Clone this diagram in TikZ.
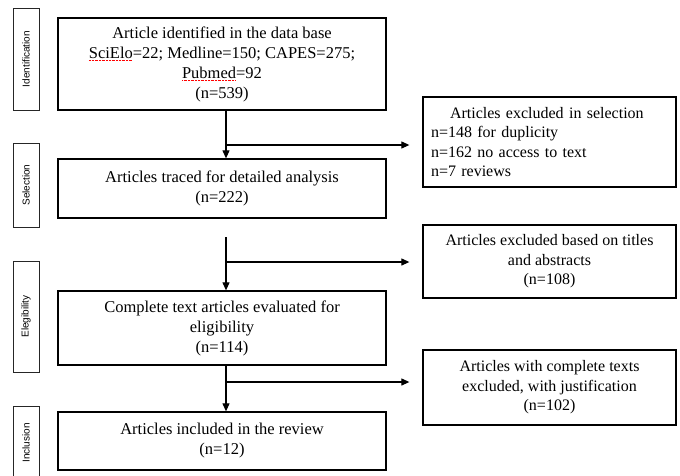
\documentclass[tikz,border=0pt]{standalone}
\usepackage{fontspec}
\setmainfont{Liberation Serif}
\setsansfont{Liberation Sans}
\usetikzlibrary{arrows.meta}
\newsavebox\spellbox
\newcommand\spellerr[1]{\sbox\spellbox{#1}\rlap{\raisebox{-2.8pt}{\textcolor{red}{\hbox to \wd\spellbox{\xleaders\hbox{\rule{0.9pt}{0.6pt}\hskip0.5pt}\hfill}}}}\usebox\spellbox}
\begin{document}
\begin{tikzpicture}[x=1pt,y=-1pt,
  mainbox/.style={draw=black,line width=1.3pt,minimum width=328pt,align=center,inner sep=0pt,
    font=\fontsize{16.5}{20}\selectfont},
  sidebox/.style={draw=black!85,line width=0.9pt,minimum width=26pt,inner sep=0pt},
  sidelabel/.style={rotate=90,font=\sffamily\fontsize{10}{11}\selectfont},
  exbox/.style={draw=black,line width=1.3pt,minimum width=253pt,inner sep=0pt,
    font=\fontsize{16}{19.5}\selectfont},
  flow/.style={line width=1.1pt,-{Triangle[length=8pt,width=7pt]}},
  side/.style={flow,shorten >=13pt}]
\useasboundingbox (0,0) rectangle (680,475);
\begin{scope}
\clip (0,0) rectangle (680,475);
% side phase boxes
\node[sidebox,minimum height=102pt] (s1) at (26,59) {};
\node[sidelabel] at (s1) {Identification};
\node[sidebox,minimum height=84pt] (s2) at (26,185) {};
\node[sidelabel] at (s2) {Selection};
\node[sidebox,minimum height=111pt] (s3) at (26,316.5) {};
\node[sidelabel] at (s3) {Elegibility};
\node[sidebox,minimum height=80pt] (s4) at (26,446) {};
\node[sidelabel] at (26,443) {Inclusion};
\end{scope}
% main boxes
\node[mainbox,minimum height=92pt] (b1) at (222,64)
  {Article identified in the data base\\ \spellerr{SciElo}=22; Medline=150; CAPES=275;\\ \spellerr{Pubmed}=92\\ (n=539)};
\node[mainbox,minimum height=59pt] (b2) at (222,188.5)
  {Articles traced for detailed analysis\\ (n=222)};
\node[mainbox,minimum height=74pt] (b3) at (222,328)
  {Complete text articles evaluated for\\ eligibility\\ (n=114)};
\node[mainbox,minimum height=58pt] (b4) at (222,441)
  {Articles included in the review\\ (n=12)};
% exclusion boxes
\node[exbox,minimum height=90pt,align=left,text width=237pt] (r1) at (549.5,142)
  {\hspace*{19pt}Articles excluded in selection\\ n=148 for duplicity\\ n=162 no access to text\\ n=7 reviews};
\node[exbox,minimum height=73pt,align=center] (r2) at (549.5,261.5)
  {Articles excluded based on titles\\ and abstracts\\ (n=108)};
\node[exbox,minimum height=75pt,align=center] (r3) at (549.5,387.5)
  {Articles with complete texts\\ excluded, with justification\\ (n=102)};
% connectors
\coordinate (cx) at (226,0);
\coordinate (j1) at (226,145);
\coordinate (c2) at (226,237);
\coordinate (j2) at (226,262);
\coordinate (j3) at (226,382);
\draw[flow] (b1.south -| cx) -- (b2.north -| cx);
\draw[side] (j1) -- (j1 -| r1.west);
\draw[flow] (c2) -- (b3.north -| cx);
\draw[side] (j2) -- (j2 -| r2.west);
\draw[flow] (b3.south -| cx) -- (b4.north -| cx);
\draw[side] (j3) -- (j3 -| r3.west);
\end{tikzpicture}
\end{document}
